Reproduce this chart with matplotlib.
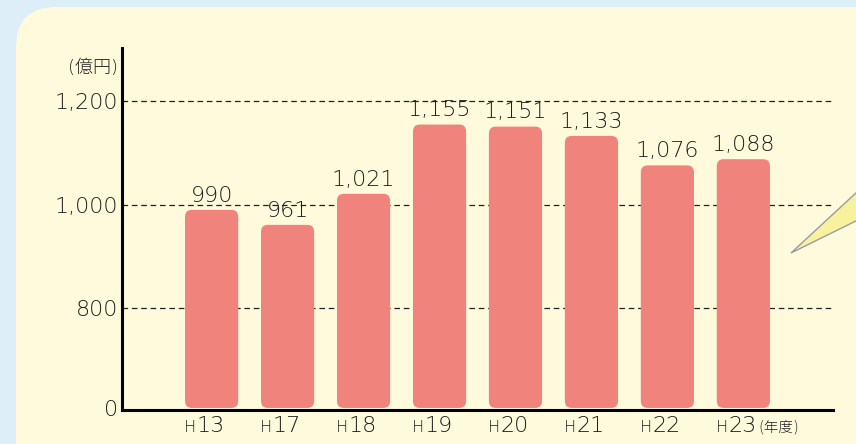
import numpy as np
import matplotlib.pyplot as plt
from matplotlib.patches import FancyBboxPatch, Polygon

plt.rcParams['font.family'] = ['DejaVu Sans', 'Noto Sans CJK JP']
plt.rcParams['font.weight'] = 'light'

# データ(億円)
years = ['13', '17', '18', '19', '20', '21', '22', '23']
values = [990, 961, 1021, 1155, 1151, 1133, 1076, 1088]
tick_vals = [1200, 1000, 800]
tick_text = ['1,200', '1,000', '800']

base = 607          # 省略した軸の「0」の位置
y_top = 1303
txt = '#1e1e1e'
bar_col = '#F0837B'

fig = plt.figure(figsize=(8.56, 4.44), dpi=100)
fig.patch.set_facecolor('#DDEEF8')

# 背景パネル(ピクセル座標)
bg = fig.add_axes([0, 0, 1, 1], zorder=0)
bg.set_xlim(0, 856)
bg.set_ylim(444, 0)
bg.axis('off')
bg.add_patch(FancyBboxPatch((16, 7), 900, 500,
                            boxstyle='round,pad=0,rounding_size=40',
                            fc='#FEFADB', ec='none'))
bg.add_patch(Polygon([(791, 253), (870, 180), (870, 214)], closed=True,
                     fc='#F8F29C', ec='#9A9AA8', lw=1.0))

ax = fig.add_axes([122 / 856, 1 - 410 / 444, (833 - 122) / 856, (410 - 48) / 444], zorder=1)
ax.set_facecolor('none')

x = np.arange(len(values))
w = 0.70
for xi, v in zip(x, values):
    ax.add_patch(FancyBboxPatch((xi - w / 2, base), w, v - base,
                                boxstyle='round,pad=0,rounding_size=0.09',
                                mutation_aspect=150, fc=bar_col, ec='none', zorder=2))
    ax.annotate(f'{v:,}', (xi, v), xytext=(0, 3), textcoords='offset points',
                ha='center', va='bottom', fontsize=16, color=txt)

for t in tick_vals:
    ax.axhline(t, color='#222222', lw=0.9, ls=(0, (4.5, 3)), zorder=1)

ax.set_xlim(-1.18, 8.18)
ax.set_ylim(base - 4, y_top)
ax.set_yticks([base] + tick_vals)
ax.set_yticklabels(['0'] + tick_text, fontsize=16, color=txt)
ax.tick_params(axis='y', length=0, pad=3)
ax.set_xticks([])

for s in ['top', 'right']:
    ax.spines[s].set_visible(False)
ax.spines['left'].set_linewidth(2.2)
ax.spines['bottom'].set_linewidth(2.2)

# x軸ラベル(小さいH+年)
for xi, yr in zip(x, years):
    ax.annotate('H', (xi, 0), xycoords=('data', 'axes fraction'), xytext=(-11, -7),
                textcoords='offset points', ha='right', va='top', fontsize=11.5, color=txt)
    ax.annotate(yr, (xi, 0), xycoords=('data', 'axes fraction'), xytext=(-10.5, -4),
                textcoords='offset points', ha='left', va='top', fontsize=16, color=txt)
ax.annotate('(年度)', (x[-1], 0), xycoords=('data', 'axes fraction'), xytext=(10.5, -7),
            textcoords='offset points', ha='left', va='top', fontsize=10.5, color=txt)

ax.annotate('(億円)', (0, 1), xycoords='axes fraction', xytext=(-3, -8),
            textcoords='offset points', ha='right', va='top', fontsize=13, color=txt)

fig.savefig('out.png', dpi=100, facecolor=fig.get_facecolor())
